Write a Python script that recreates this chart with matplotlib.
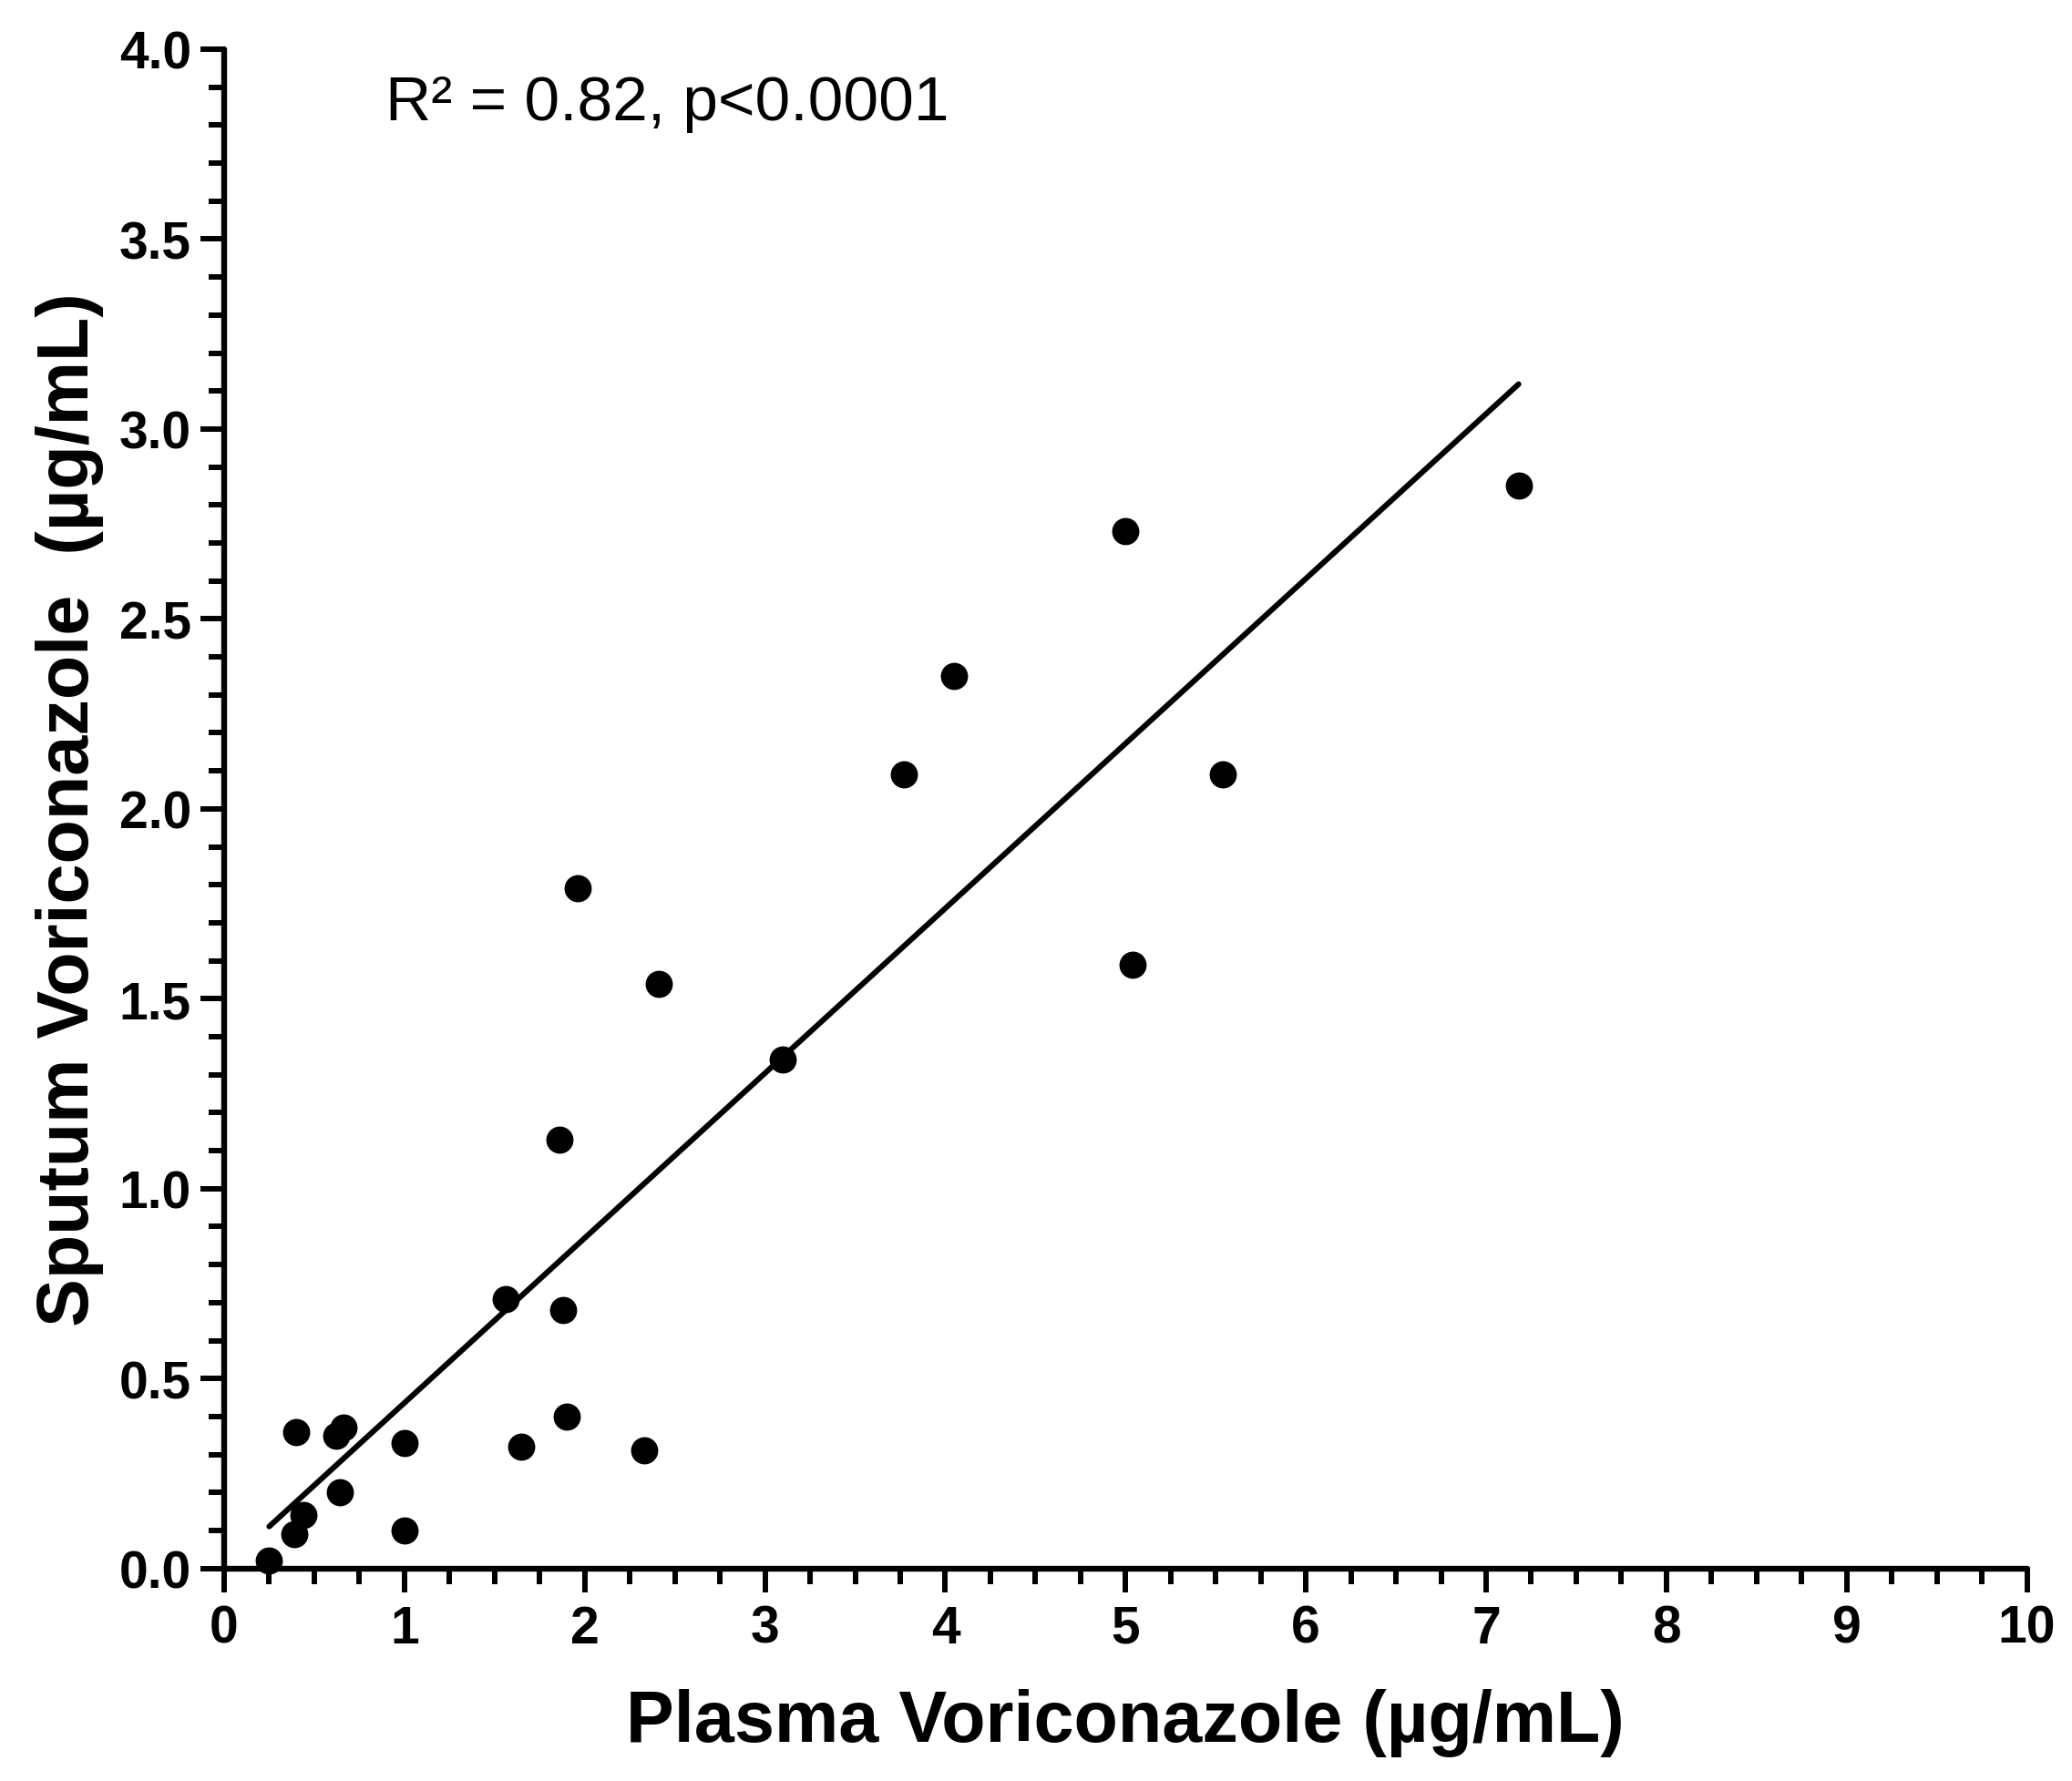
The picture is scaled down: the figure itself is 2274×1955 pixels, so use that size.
import matplotlib
matplotlib.use("Agg")
import matplotlib.pyplot as plt
from matplotlib.ticker import MultipleLocator, FixedLocator
import numpy as np

plt.rcParams['font.family'] = ['Liberation Sans', 'DejaVu Sans']

# ---- data ----
plasma = [0.25, 0.39, 0.44, 0.40, 0.62, 0.66, 0.64, 1.00, 1.00, 1.56, 1.65, 1.88,
          1.90, 1.86, 1.96, 2.33, 2.41, 3.10, 3.77, 4.05, 5.00, 5.04, 5.54, 7.18]
sputum = [0.02, 0.09, 0.14, 0.36, 0.35, 0.37, 0.20, 0.33, 0.10, 0.71, 0.32, 0.68,
          0.40, 1.13, 1.79, 0.31, 1.54, 1.34, 2.09, 2.35, 2.73, 1.59, 2.09, 2.85]

fit_slope = 0.434
fit_intercept = 0.002
fit_x_range = [0.25, 7.18]

x_ticks = [0, 1, 2, 3, 4, 5, 6, 7, 8, 9, 10]
y_ticks = [0.0, 0.5, 1.0, 1.5, 2.0, 2.5, 3.0, 3.5, 4.0]
y_tick_labels = ["0.0", "0.5", "1.0", "1.5", "2.0", "2.5", "3.0", "3.5", "4.0"]

x_label = "Plasma Voriconazole (µg/mL)"
y_label = "Sputum Voriconazole  (µg/mL)"
annotation = "R² = 0.82, p<0.0001"

# ---- figure ----
W, H = 2274, 1956
fig = plt.figure(figsize=(W / 100, H / 100), dpi=100)
ax_left, ax_right = 246 / W, 2224.6 / W
ax_bottom, ax_top = 1 - 1722.7 / H, 1 - 55 / H
ax = fig.add_axes([ax_left, ax_bottom, ax_right - ax_left, ax_top - ax_bottom])

ax.set_xlim(0, 10)
ax.set_ylim(0, 4)

for s in ['top', 'right']:
    ax.spines[s].set_visible(False)
for s in ['left', 'bottom']:
    ax.spines[s].set_linewidth(4.6)
    ax.spines[s].set_capstyle('round')

ax.xaxis.set_major_locator(FixedLocator(x_ticks))
ax.yaxis.set_major_locator(FixedLocator(y_ticks))
ax.set_yticklabels(y_tick_labels)
ax.xaxis.set_minor_locator(MultipleLocator(0.25))
ax.yaxis.set_minor_locator(MultipleLocator(0.1))

ax.tick_params(which='major', direction='out', length=19, width=4.3, labelsize=41, pad=9)
ax.tick_params(which='minor', direction='out', length=12.5, width=4.3)
ax.tick_params(axis='y', which='major', pad=7)
for lab in ax.get_xticklabels() + ax.get_yticklabels():
    lab.set_fontweight('bold')
for t in ax.xaxis.get_major_ticks() + ax.yaxis.get_major_ticks() + \
         ax.xaxis.get_minor_ticks() + ax.yaxis.get_minor_ticks():
    t.tick1line.set_solid_capstyle('round')

# regression line
fx = np.array(fit_x_range)
ax.plot(fx, fit_slope * fx + fit_intercept, color='black', lw=4.4,
        solid_capstyle='round', zorder=3)

# points
ax.plot(plasma, sputum, 'o', color='black', markersize=21.5, markeredgewidth=0,
        clip_on=False, zorder=4)

# annotation
ax.text(0.895, 3.816, annotation, fontsize=50, ha='left', va='baseline')

# axis labels
fig.text(1235 / W, 1 - 1911.7 / H, x_label, fontsize=57, fontweight='bold',
         ha='center', va='baseline')
fig.text(97 / W, 1 - 889 / H, y_label, fontsize=57, fontweight='bold',
         ha='center', va='baseline', rotation=90, rotation_mode='anchor')

fig.savefig("out.png", dpi=100, facecolor='white')
